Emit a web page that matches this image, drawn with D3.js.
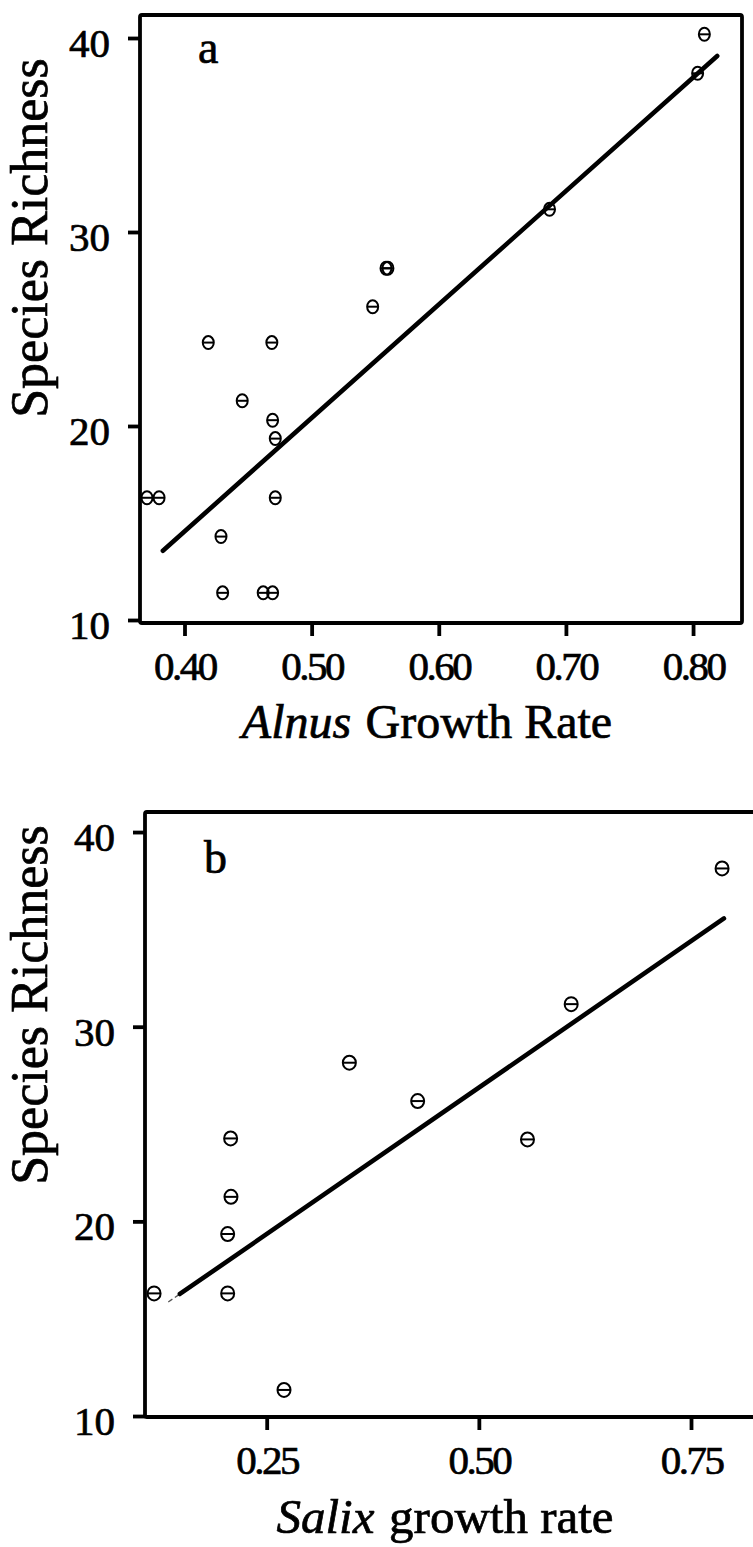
<!DOCTYPE html>
<html>
<head>
<meta charset="utf-8">
<script src="https://cdn.jsdelivr.net/npm/d3@7"></script>
<style>
  html, body { margin: 0; padding: 0; background: #fff; }
  svg { display: block; }
  text { font-family: "Liberation Serif", "Times New Roman", serif; fill: #000; stroke: #000; stroke-width: 0.7px; }
</style>
</head>
<body>
<svg id="chart" width="753" height="1547"></svg>
<script>
// ---- Panel a: Alnus growth rate vs. species richness ----
const alnusGrowth   = [0.3705, 0.380, 0.4187, 0.4687, 0.4454, 0.4693, 0.4714, 0.4714, 0.4287, 0.430, 0.4619, 0.4693, 0.548, 0.5585, 0.5600, 0.6871, 0.8036, 0.8089];
const alnusRichness = [16.3,   16.3,  24.3,   24.3,   21.3,   20.3,   19.35,  16.3,   14.3,   11.4,  11.4,   11.4,   26.15, 28.13,  28.13,  31.17,  38.18,  40.19];
const alnusFitX = [0.383, 0.819];
const alnusFitY = [13.57, 39.07];
const alnusTicks = [0.40, 0.50, 0.60, 0.70, 0.80];

// ---- Panel b: Salix growth rate vs. species richness ----
const salixGrowth   = [0.1173, 0.204, 0.204, 0.2079, 0.2075, 0.2704, 0.3474, 0.4279, 0.5573, 0.6088, 0.7866];
const salixRichness = [16.3,   16.3,  19.35, 21.26,  24.26,  11.34,  28.15,  26.18,  24.21,  31.16,  38.13];
const salixFitX = [0.1477, 0.7888];
const salixFitY = [16.27, 35.56];
const salixFitTailX = [0.134, 0.1477];
const salixFitTailY = [15.86, 16.27];
const salixTicks = [0.25, 0.50, 0.75];

const richnessTicks = [10, 20, 30, 40];

const svg = d3.select("#chart");

function drawPanel(p) {
  const x = d3.scaleLinear().domain(p.xDomain).range(p.xRange);
  const y = d3.scaleLinear().domain(p.yDomain).range(p.yRange);
  const g = svg.append("g");

  // points (under the fit line)
  const pts = g.append("g");
  p.xs.forEach((xv, i) => {
    const cx = x(xv), cy = y(p.ys[i]);
    const m = pts.append("g").attr("transform", `translate(${cx},${cy})`);
    m.append("ellipse").attr("rx", p.rx).attr("ry", p.ry)
      .attr("fill", "none").attr("stroke", "#000").attr("stroke-width", 2);
    m.append("line").attr("x1", -p.rx + 0.5).attr("x2", p.rx - 0.5)
      .attr("y1", 0).attr("y2", 0)
      .attr("stroke", "#000").attr("stroke-width", 2);
  });

  // fitted line
  const line = d3.line().x(d => x(d[0])).y(d => y(d[1]));
  if (p.tailX) {
    g.append("path").datum(d3.zip(p.tailX, p.tailY)).attr("d", line)
      .attr("fill", "none").attr("stroke", "#555").attr("stroke-width", 1.3)
      .attr("stroke-dasharray", "5,3");
  }
  g.append("path").datum(d3.zip(p.fitX, p.fitY)).attr("d", line)
    .attr("fill", "none").attr("stroke", "#000").attr("stroke-width", 4.6)
    .attr("stroke-linecap", "round");

  // frame
  const [x0, x1] = x.range();
  const [yb, yt] = y.range();
  g.append("rect").attr("x", x0).attr("y", yt).attr("width", x1 - x0).attr("height", yb - yt)
    .attr("fill", "none").attr("stroke", "#000").attr("stroke-width", 3.8)
    .attr("rx", 2);

  // y axis
  const ya = g.append("g").attr("transform", `translate(${x0},0)`)
    .call(d3.axisLeft(y).tickValues(richnessTicks).tickSize(12).tickPadding(18).tickFormat(d3.format("d")));
  ya.select(".domain").remove();
  ya.selectAll(".tick line").attr("stroke", "#000").attr("stroke-width", 3.8);
  ya.selectAll(".tick text").attr("font-size", 41).attr("dy", "0.45em")
    .style("font-family", '"Liberation Serif", serif').attr("fill", "#000");

  // x axis
  const xa = g.append("g").attr("transform", `translate(0,${yb})`)
    .call(d3.axisBottom(x).tickValues(p.xTicks).tickSize(13).tickFormat(d3.format(".2f")));
  xa.select(".domain").remove();
  xa.selectAll(".tick line").attr("stroke", "#000").attr("stroke-width", 3.8);
  xa.selectAll(".tick text").attr("font-size", 41).attr("y", 57).attr("dy", null)
    .attr("letter-spacing", "-2.5px")
    .style("font-family", '"Liberation Serif", serif').attr("fill", "#000");

  // panel letter
  g.append("text").attr("x", x0 + p.letterDx).attr("y", yt + p.letterDy)
    .attr("font-size", 46).text(p.letter);

  // y title
  g.append("text")
    .attr("transform", `translate(${p.yTitleX},${p.yTitleY}) rotate(-90)`)
    .attr("text-anchor", "middle").attr("font-size", 52).text("Species Richness");

  // x title
  const t = g.append("text").attr("x", p.xTitleX).attr("y", p.xTitleY)
    .attr("text-anchor", "middle").attr("font-size", p.xTitleSize);
  t.append("tspan").attr("font-style", "italic").text(p.genus);
  t.append("tspan").attr("dx", p.xTitleSize * 0.3).text(p.rest);
}

drawPanel({
  xDomain: [0.365, 0.8385], xRange: [140, 742],
  yDomain: [9.845, 41.186], yRange: [623, 15],
  xs: alnusGrowth, ys: alnusRichness, rx: 5.5, ry: 6.5,
  fitX: alnusFitX, fitY: alnusFitY,
  xTicks: alnusTicks,
  letter: "a", letterDx: 58, letterDy: 48,
  yTitleX: 47, yTitleY: 238,
  genus: "Alnus", rest: "Growth Rate", xTitleX: 427, xTitleY: 738, xTitleSize: 48
});

drawPanel({
  xDomain: [0.1066, 0.8313], xRange: [145, 760],
  yDomain: [9.95, 41.03], yRange: [1417, 812],
  xs: salixGrowth, ys: salixRichness, rx: 6.5, ry: 7,
  fitX: salixFitX, fitY: salixFitY,
  tailX: salixFitTailX, tailY: salixFitTailY,
  xTicks: salixTicks,
  letter: "b", letterDx: 59, letterDy: 61,
  yTitleX: 47, yTitleY: 1005,
  genus: "Salix", rest: "growth rate", xTitleX: 445, xTitleY: 1533, xTitleSize: 49
});
</script>
</body>
</html>
